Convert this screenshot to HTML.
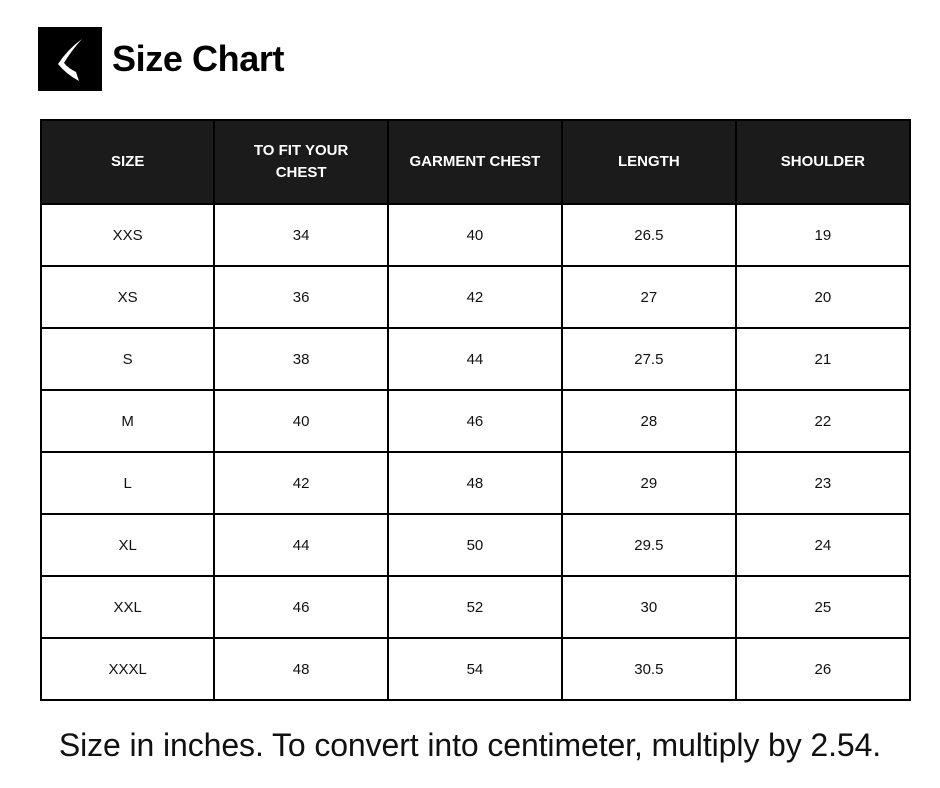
<!DOCTYPE html>
<html><head><meta charset="utf-8"><style>
body{margin:0;width:940px;height:788px;background:#fff;font-family:"Liberation Sans",Arial,sans-serif;position:relative;overflow:hidden}
.logo{position:absolute;left:38px;top:27px;width:64px;height:64px;background:#000}
.title{position:absolute;left:112px;top:38px;font-size:36px;font-weight:bold;color:#000;letter-spacing:-0.4px}
table{position:absolute;left:40px;top:119px;border-collapse:collapse;width:871px}
td,th{border:2.5px solid #000;text-align:center;width:174px;font-size:15px;color:#111;padding:0}
th{background:#1b1b1b;color:#fff;height:82px;font-size:15px;line-height:22px}
td{height:60px}
.note{position:absolute;left:0;width:940px;top:727px;text-align:center;font-size:32px;color:#111;letter-spacing:-0.1px}
</style></head><body>
<div class="logo">
<svg width="64" height="64" viewBox="0 0 64 64"><path d="M44 12 Q30 22 20 37 Q28 47 41 54 L38 45 Q30 41 26 36 Q33 24 44 12 Z" fill="#fff"/></svg>
</div>
<div class="title">Size Chart</div>
<table>
<thead><tr>
<th>SIZE</th>
<th>TO FIT YOUR<br>CHEST</th>
<th>GARMENT CHEST</th>
<th>LENGTH</th>
<th>SHOULDER</th>
</tr></thead>
<tbody>
<tr><td>XXS</td><td>34</td><td>40</td><td>26.5</td><td>19</td></tr>
<tr><td>XS</td><td>36</td><td>42</td><td>27</td><td>20</td></tr>
<tr><td>S</td><td>38</td><td>44</td><td>27.5</td><td>21</td></tr>
<tr><td>M</td><td>40</td><td>46</td><td>28</td><td>22</td></tr>
<tr><td>L</td><td>42</td><td>48</td><td>29</td><td>23</td></tr>
<tr><td>XL</td><td>44</td><td>50</td><td>29.5</td><td>24</td></tr>
<tr><td>XXL</td><td>46</td><td>52</td><td>30</td><td>25</td></tr>
<tr><td>XXXL</td><td>48</td><td>54</td><td>30.5</td><td>26</td></tr>
</tbody></table>
<div class="note">Size in inches. To convert into centimeter, multiply by 2.54.</div>
</body></html>
